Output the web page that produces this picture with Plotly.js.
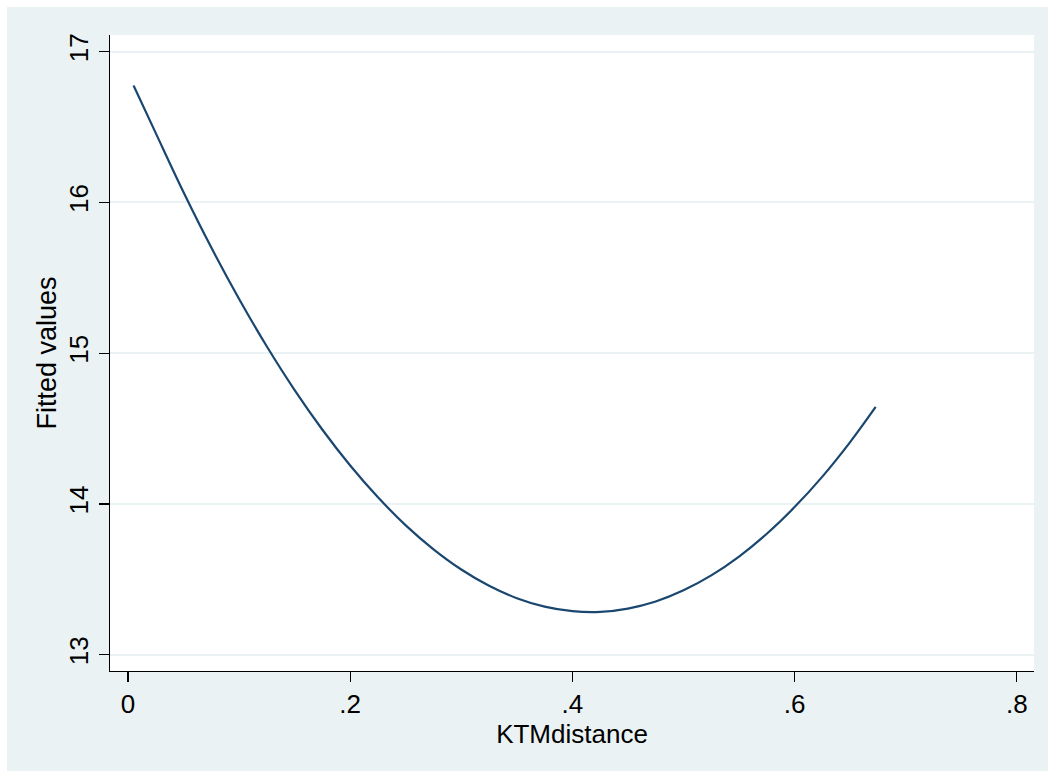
<!DOCTYPE html>
<html>
<head>
<meta charset="utf-8">
<script src="https://cdn.plot.ly/plotly-3.0.1.min.js"></script>
<style>
html,body{margin:0;padding:0;background:#ffffff;}
#chart{position:absolute;left:7px;top:7px;width:1041px;height:764px;}
</style>
</head>
<body>
<div id="chart"></div>
<script>
// KTMdistance values and fitted values
const ktmDistance = [0.005, 0.025, 0.05, 0.075, 0.1, 0.125, 0.15, 0.175, 0.2, 0.225, 0.25, 0.275, 0.3, 0.325, 0.35, 0.375, 0.4, 0.425, 0.45, 0.475, 0.5, 0.525, 0.55, 0.575, 0.6, 0.625, 0.65, 0.673];
const fittedValues = [16.775, 16.459, 16.067, 15.700, 15.359, 15.044, 14.755, 14.492, 14.255, 14.044, 13.858, 13.699, 13.565, 13.457, 13.375, 13.319, 13.289, 13.284, 13.306, 13.353, 13.427, 13.526, 13.651, 13.802, 13.979, 14.181, 14.410, 14.643];
const xTickVals = [0, 0.2, 0.4, 0.6, 0.8];
const xTickText = ["0", ".2", ".4", ".6", ".8"];
const yTickVals = [13, 14, 15, 16, 17];
const yTickText = ["13", "14", "15", "16", "17"];

const font = "Liberation Sans, Arial, Helvetica, sans-serif";

Plotly.newPlot("chart", [{
  x: ktmDistance,
  y: fittedValues,
  type: "scatter",
  mode: "lines",
  line: {color: "#1a476f", width: 2.2, shape: "spline", smoothing: 1},
  hoverinfo: "none"
}], {
  width: 1041,
  height: 764,
  paper_bgcolor: "#eaf2f3",
  plot_bgcolor: "#ffffff",
  margin: {l: 103, r: 14, t: 28, b: 100},
  showlegend: false,
  font: {family: font, size: 26, color: "#000000"},
  xaxis: {
    range: [-0.0162, 0.8155],
    tickvals: xTickVals,
    ticktext: xTickText,
    ticks: "outside",
    ticklen: 10,
    tickwidth: 1.2,
    tickcolor: "#000000",
    showline: true,
    linecolor: "#000000",
    linewidth: 1.2,
    showgrid: false,
    zeroline: false,
    tickfont: {family: font, size: 26, color: "#000000"},
    title: {text: "KTMdistance", font: {family: font, size: 26, color: "#000000"}, standoff: 3}
  },
  yaxis: {
    range: [12.892, 17.11],
    tickvals: yTickVals,
    ticktext: yTickText,
    tickangle: -90,
    ticks: "outside",
    ticklen: 10,
    tickwidth: 1.2,
    tickcolor: "#000000",
    showline: true,
    linecolor: "#000000",
    linewidth: 1.2,
    showgrid: true,
    gridcolor: "#eaf2f3",
    gridwidth: 2,
    zeroline: false,
    tickfont: {family: font, size: 26, color: "#000000"},
    title: {text: "Fitted values", font: {family: font, size: 27, color: "#000000"}, standoff: 0}
  }
}, {displayModeBar: false, staticPlot: true});
</script>
</body>
</html>
